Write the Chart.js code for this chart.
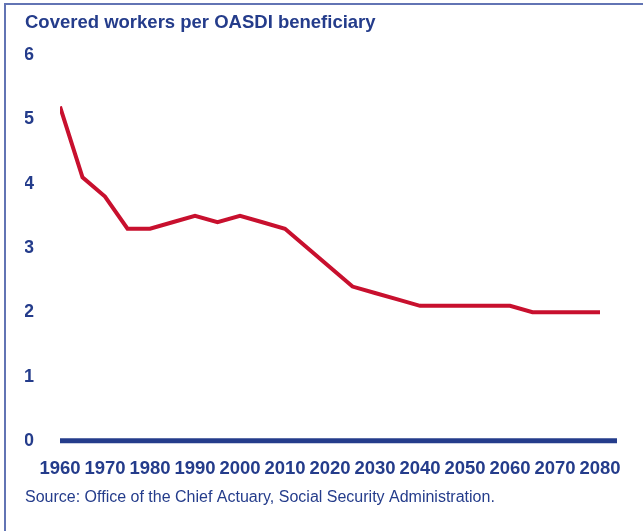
<!DOCTYPE html>
<html>
<head>
<meta charset="utf-8">
<title>Covered workers per OASDI beneficiary</title>
<script src="https://cdn.jsdelivr.net/npm/chart.js@4/dist/chart.umd.min.js"></script>
<style>
  html, body { margin: 0; padding: 0; background: #fff; }
  #wrap { position: relative; width: 643px; height: 531px; }
</style>
</head>
<body>
<div id="wrap"><canvas id="workersChart"></canvas></div>
<script>
"use strict";

// years, every 5 years from 1960 to 2080
var years = [1960, 1965, 1970, 1975, 1980, 1985, 1990, 1995, 2000, 2005, 2010, 2015, 2020,
  2025, 2030, 2035, 2040, 2045, 2050, 2055, 2060, 2065, 2070, 2075, 2080];
// covered workers per beneficiary
var ratio = [5.2, 4.1, 3.8, 3.3, 3.3, 3.4, 3.5, 3.4, 3.5, 3.4, 3.3, 3.0, 2.7,
  2.4, 2.3, 2.2, 2.1, 2.1, 2.1, 2.1, 2.1, 2.0, 2.0, 2.0, 2.0];
var yTicks = [0, 1, 2, 3, 4, 5, 6];
var xTicks = [1960, 1970, 1980, 1990, 2000, 2010, 2020, 2030, 2040, 2050, 2060, 2070, 2080];

var navy = "#243c8b";
var red = "#c8102e";
var font = "Liberation Sans, Arial, sans-serif";

// frame on top + left, plus the heavy zero line
var decor = {
  id: "decor",
  beforeDraw: function (chart) {
    var ctx = chart.ctx;
    ctx.save();
    ctx.fillStyle = "#6274b4";
    ctx.fillRect(4, 3, chart.width - 4, 2);
    ctx.fillRect(4, 3, 2, chart.height - 3);
    ctx.restore();
  },
  beforeDatasetsDraw: function (chart) {
    var ctx = chart.ctx;
    var y0 = chart.scales.y.getPixelForValue(0);
    ctx.save();
    ctx.strokeStyle = navy;
    ctx.lineWidth = 5;
    ctx.beginPath();
    ctx.moveTo(chart.chartArea.left, y0);
    ctx.lineTo(chart.chartArea.right + 17, y0);
    ctx.stroke();
    ctx.restore();
  }
};

const ctxEl = document.getElementById("workersChart");

new Chart(ctxEl, {
  type: "line",
  data: {
    datasets: [{
      data: years.map(function (yr, i) { return { x: yr, y: ratio[i] }; }),
      borderColor: red,
      borderWidth: 4,
      pointRadius: 0,
      tension: 0,
      fill: false
    }]
  },
  options: {
    responsive: true,
    maintainAspectRatio: false,
    animation: false,
    layout: {
      padding: { left: 25, right: 43, top: 0, bottom: 24 }
    },
    plugins: {
      legend: { display: false },
      tooltip: { enabled: false },
      title: {
        display: true,
        text: "Covered workers per OASDI beneficiary",
        align: "start",
        color: navy,
        font: { family: font, size: 18.5, weight: "bold" },
        padding: { top: 12, bottom: 21 }
      },
      subtitle: {
        display: true,
        position: "bottom",
        text: "Source: Office of the Chief Actuary, Social Security Administration.",
        align: "start",
        color: navy,
        font: { family: font, size: 16 },
        padding: { top: 7, bottom: 0 }
      }
    },
    scales: {
      x: {
        type: "linear",
        min: 1960,
        max: 2080,
        afterBuildTicks: function (scale) {
          scale.ticks = xTicks.map(function (v) { return { value: v }; });
        },
        afterFit: function (scale) { scale.height = 40; },
        grid: { display: false, drawTicks: false },
        border: { display: false },
        ticks: {
          color: navy,
          padding: 17,
          maxRotation: 0,
          autoSkip: false,
          font: { family: font, size: 18.5, weight: "bold" },
          callback: function (v) { return String(v); }
        }
      },
      y: {
        min: 0,
        max: 6,
        afterBuildTicks: function (scale) {
          scale.ticks = yTicks.map(function (v) { return { value: v }; });
        },
        afterFit: function (scale) { scale.width = 35; },
        grid: { display: false, drawTicks: false },
        border: { display: false },
        ticks: {
          color: navy,
          padding: 26,
          font: { family: font, size: 18, weight: "bold" }
        }
      }
    }
  },
  plugins: [decor]
});
</script>
</body>
</html>
